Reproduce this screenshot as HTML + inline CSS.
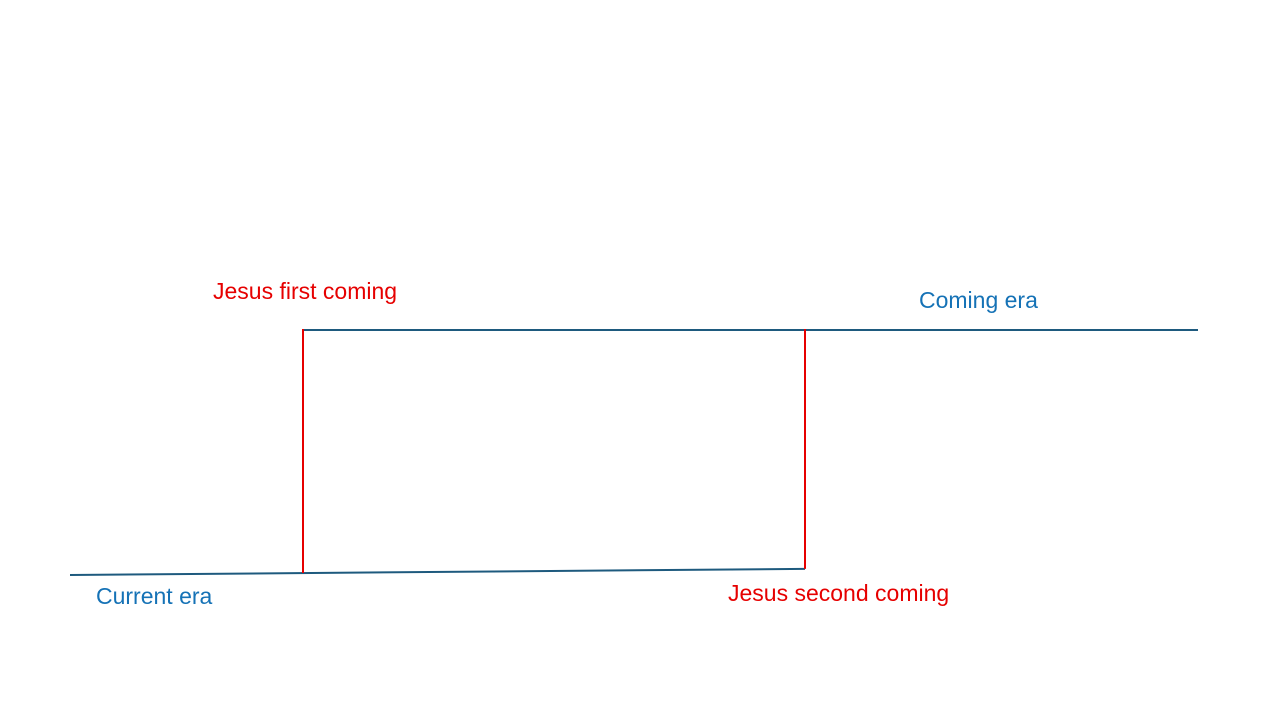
<!DOCTYPE html>
<html>
<head>
<meta charset="utf-8">
<style>
  html,body{margin:0;padding:0;background:#fff;}
  svg{display:block;}
  text{font-family:"Liberation Sans",sans-serif;font-size:23px;}
</style>
</head>
<body>
<svg id="chart" width="1280" height="720" viewBox="0 0 1280 720" xmlns="http://www.w3.org/2000/svg"></svg>
<script>
// Timeline data (time units along x, level units along y)
const eraNames = ["Current era", "Coming era"];
const eraStart = [0, 233];
const eraEnd = [735, 1128];
const eraLevelStart = [0, 1];
const eraLevelEnd = [0.025, 1];
const eventNames = ["Jesus first coming", "Jesus second coming"];
const eventTimes = [233, 735];

const svg = document.getElementById('chart');
const NS = "http://www.w3.org/2000/svg";
function xScale(t){ return 70 + t; }
function yScale(v){ return 575 - v * 245; }
function currentLevel(t){
  return eraLevelStart[0] + (eraLevelEnd[0]-eraLevelStart[0]) * (t - eraStart[0]) / (eraEnd[0]-eraStart[0]);
}
function mk(tag, attrs){
  const el = document.createElementNS(NS, tag);
  for (const k in attrs) el.setAttribute(k, attrs[k]);
  svg.appendChild(el);
  return el;
}

eraNames.forEach((name, i) => {
  const line = mk('line', {
    x1: xScale(eraStart[i]), y1: yScale(eraLevelStart[i]),
    x2: xScale(eraEnd[i]), y2: yScale(eraLevelEnd[i]),
    stroke: '#1e5a7e', 'stroke-width': 2
  });
  
  
});

eventTimes.forEach((t, i) => {
  const line = mk('line', {
    x1: xScale(t), y1: yScale(1) - 1,
    x2: xScale(t), y2: yScale(currentLevel(t)),
    stroke: '#e60000', 'stroke-width': 2
  });
  
  
});

const t1 = mk('text', {x: 96, y: 604, fill: '#1572b6'});
t1.textContent = eraNames[0];



const t2 = mk('text', {x: 919, y: 308, fill: '#1572b6'});
t2.textContent = eraNames[1];



const t3 = mk('text', {x: 213, y: 299, fill: '#e60000'});
t3.textContent = eventNames[0];



const t4 = mk('text', {x: 728, y: 601, fill: '#e60000'});
t4.textContent = eventNames[1];


</script>
</body>
</html>
